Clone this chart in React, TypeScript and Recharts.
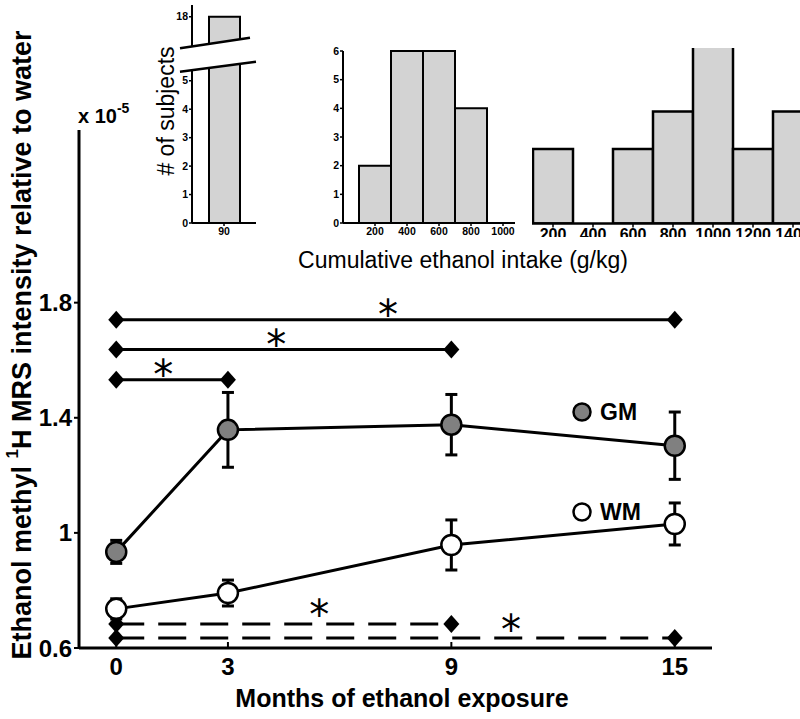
import React from 'react';
import { ComposedChart, BarChart, Bar, Line, Scatter, XAxis, YAxis, ErrorBar, Legend, Label } from 'recharts';

const FONT = '"Liberation Sans", Arial, Helvetica, sans-serif';

// ---- main chart data ----
const months = [0, 3, 9, 15];
const gmMean = [0.934, 1.358, 1.376, 1.303];
const gmErr = [0.04, 0.13, 0.105, 0.117];
const wmMean = [0.736, 0.791, 0.958, 1.031];
const wmErr = [0.035, 0.045, 0.087, 0.073];
const xTicks = [0, 3, 9, 15];
const yTicks = [0.6, 1, 1.4, 1.8];
const legendNames = ['GM', 'WM'];
const legendFills = ['#808080', '#ffffff'];

// ---- significance brackets ----
const sigStart = [0, 0, 0, 0, 0];
const sigEnd = [15, 9, 3, 9, 15];
const sigLevel = [1.741, 1.637, 1.532, 0.683, 0.635];
const sigDashed = [false, false, false, true, true];
const starMonth = [7.3, 4.3, 1.26, 5.45, 10.6];
const starLevel = [1.786, 1.682, 1.577, 0.743, 0.69];

// ---- inset histograms ----
const inset1Bins = ['90'];
const inset1Counts = [18];
const inset1LowTicks = [0, 1, 2, 3, 4, 5];
const inset1HighTicks = [18];
const inset2Bins = [200, 400, 600, 800, 1000];
const inset2Counts = [2, 6, 6, 4, 0];
const inset2YTicks = [0, 1, 2, 3, 4, 5, 6];
const inset3Bins = [200, 400, 600, 800, 1000, 1200, 1400];
const inset3Counts = [2, 0, 2, 3, 5, 2, 3];

const mainData = months.map((m, i) => ({ m, gm: gmMean[i], gmErr: gmErr[i], wm: wmMean[i], wmErr: wmErr[i] }));
const sigLines = sigStart.map((s, i) => [
  { m: s, v: sigLevel[i] },
  { m: sigEnd[i], v: sigLevel[i] },
]);
const stars = starMonth.map((m, i) => ({ m, v: starLevel[i] }));
const inset1Data = inset1Bins.map((b, i) => ({ bin: b, n: inset1Counts[i] }));
const inset2Data = inset2Bins.map((b, i) => ({ bin: b, n: inset2Counts[i] }));
const inset3Data = inset3Bins.map((b, i) => ({ bin: b, n: inset3Counts[i] }));

const renderDiamond = (p: any) => {
  const { cx, cy, index } = p;
  if (cx == null || cy == null) return <g key={'d' + index} />;
  return <path key={'d' + index} d={`M${cx},${cy - 9}L${cx + 8},${cy}L${cx},${cy + 9}L${cx - 8},${cy}Z`} fill="#000" />;
};

const makeCircleDot = (fill: string) => (p: any) => {
  const { cx, cy, index } = p;
  if (cx == null || cy == null) return <g key={'c' + index} />;
  return <circle key={'c' + index} cx={cx} cy={cy} r={10} fill={fill} stroke="#000" strokeWidth={2.5} />;
};

const renderStar = (p: any) => {
  const { cx, cy } = p;
  return (
    <text x={cx} y={cy + 22} textAnchor="middle" fontSize={40} fontFamily='"DejaVu Sans", sans-serif' fill="#000">
      *
    </text>
  );
};

const renderLegend = () => (
  <div style={{ position: 'relative', width: 120, height: 130, fontFamily: FONT }}>
    {legendNames.map((name, i) => (
      <div key={name} style={{ position: 'absolute', left: 0, top: i * 100, height: 24, display: 'flex', alignItems: 'center' }}>
        <svg width={20} height={24}>
          <circle cx={10} cy={12} r={8.5} fill={legendFills[i]} stroke="#000" strokeWidth={2.5} />
        </svg>
        <span style={{ marginLeft: 8, fontSize: 23, fontWeight: 'bold', lineHeight: '24px', color: '#000' }}>{name}</span>
      </div>
    ))}
  </div>
);

const yTitle = () => (
  <text transform="rotate(-90 22 345)" x={22} y={345} textAnchor="middle" dominantBaseline="central" fontSize={27} fontWeight="bold" fill="#000">
    Ethanol methyl{' '}
    <tspan dy={-10} fontSize={17}>1</tspan>
    <tspan dy={10}>H MRS intensity relative to water</tspan>
  </text>
);

const xTitle = () => (
  <text x={402} y={707} textAnchor="middle" fontSize={25} fontWeight="bold" fill="#000">
    Months of ethanol exposure
  </text>
);

const smallTick = { fill: '#000', fontSize: 10.5, fontWeight: 'bold' as const };
const barStyle = { fill: '#d3d3d3', stroke: '#000', strokeWidth: 2 };

export default function App() {
  return (
    <div style={{ position: 'absolute', left: 0, top: 0, width: 800, height: 719, overflow: 'hidden', background: '#fff', fontFamily: FONT }}>
      {/* main chart */}
      <div style={{ position: 'absolute', left: 0, top: 0 }}>
        <ComposedChart width={800} height={719} data={mainData} margin={{ top: 130, right: 88, bottom: 0, left: 29 }}>
          <XAxis
            dataKey="m"
            type="number"
            domain={[-1, 16]}
            ticks={xTicks}
            interval={0}
            allowDataOverflow
            height={71}
            axisLine={{ stroke: '#000', strokeWidth: 3 }}
            tickLine={{ stroke: '#000', strokeWidth: 2 }}
            tickSize={-6}
            tickMargin={16}
            tick={{ fill: '#000', fontSize: 24, fontWeight: 'bold' }}
          >
            <Label content={xTitle} />
          </XAxis>
          <YAxis
            type="number"
            domain={[0.6, 2.4]}
            ticks={yTicks}
            interval={0}
            width={50}
            axisLine={{ stroke: '#000', strokeWidth: 3 }}
            tickLine={{ stroke: '#000', strokeWidth: 2 }}
            tickSize={5}
            tickMargin={2}
            tick={{ fill: '#000', fontSize: 24, fontWeight: 'bold' }}
          >
            <Label content={yTitle} />
          </YAxis>
          {sigLines.map((d, i) => (
            <Line
              key={'sig' + i}
              data={d}
              dataKey="v"
              stroke="#000"
              strokeWidth={3}
              strokeDasharray={sigDashed[i] ? '28 14' : undefined}
              dot={renderDiamond}
              activeDot={false}
              legendType="none"
              isAnimationActive={false}
            />
          ))}
          <Scatter data={stars} dataKey="v" shape={renderStar} legendType="none" isAnimationActive={false} />
          <Line dataKey="gm" name="GM" stroke="#000" strokeWidth={3} dot={makeCircleDot('#808080')} activeDot={false} isAnimationActive={false}>
            <ErrorBar dataKey="gmErr" width={6} strokeWidth={3} stroke="#000" direction="y" />
          </Line>
          <Line dataKey="wm" name="WM" stroke="#000" strokeWidth={3} dot={makeCircleDot('#ffffff')} activeDot={false} isAnimationActive={false}>
            <ErrorBar dataKey="wmErr" width={6} strokeWidth={3} stroke="#000" direction="y" />
          </Line>
          <Legend
            layout="vertical"
            align="center"
            verticalAlign="middle"
            content={renderLegend}
            wrapperStyle={{ left: 572, top: 400, width: 120, height: 130 }}
          />
        </ComposedChart>
      </div>

      {/* inset 1: upper part of broken axis */}
      <div style={{ position: 'absolute', left: 152, top: 0 }}>
        <BarChart width={104} height={52} data={inset1Data} margin={{ top: 5, right: 0, bottom: 0, left: 0 }}>
          <XAxis dataKey="bin" type="category" hide />
          <YAxis
            type="number"
            domain={[16.8, 18.4]}
            ticks={inset1HighTicks}
            allowDataOverflow
            width={40}
            axisLine={{ stroke: '#000', strokeWidth: 2 }}
            tickLine={{ stroke: '#000', strokeWidth: 1.5 }}
            tickSize={3}
            tickMargin={1}
            tick={smallTick}
          />
          <Bar dataKey="n" barSize={31} {...barStyle} isAnimationActive={false} />
        </BarChart>
      </div>

      {/* inset 1: lower part */}
      <div style={{ position: 'absolute', left: 152, top: 58 }}>
        <BarChart width={104} height={190} data={inset1Data} margin={{ top: 0, right: 0, bottom: 0, left: 0 }}>
          <XAxis
            dataKey="bin"
            type="category"
            height={25}
            axisLine={{ stroke: '#000', strokeWidth: 2 }}
            tickLine={{ stroke: '#000', strokeWidth: 1.5 }}
            tickSize={3}
            tickMargin={2}
            tick={smallTick}
          />
          <YAxis
            type="number"
            domain={[0, 5.8]}
            ticks={inset1LowTicks}
            interval={0}
            allowDataOverflow
            width={40}
            axisLine={{ stroke: '#000', strokeWidth: 2 }}
            tickLine={{ stroke: '#000', strokeWidth: 1.5 }}
            tickSize={3}
            tickMargin={1}
            tick={smallTick}
          />
          <Bar dataKey="n" barSize={31} {...barStyle} isAnimationActive={false} />
        </BarChart>
      </div>

      {/* inset 2 */}
      <div style={{ position: 'absolute', left: 313, top: 41 }}>
        <BarChart width={212} height={207} data={inset2Data} barCategoryGap={0} margin={{ top: 10, right: 10, bottom: 0, left: 0 }}>
          <XAxis
            dataKey="bin"
            type="number"
            domain={[0, 1075]}
            ticks={inset2Bins}
            interval={0}
            height={25}
            axisLine={{ stroke: '#000', strokeWidth: 2 }}
            tickLine={{ stroke: '#000', strokeWidth: 1.5 }}
            tickSize={3}
            tickMargin={2}
            tick={smallTick}
          />
          <YAxis
            type="number"
            domain={[0, 6]}
            ticks={inset2YTicks}
            interval={0}
            width={30}
            axisLine={{ stroke: '#000', strokeWidth: 2 }}
            tickLine={{ stroke: '#000', strokeWidth: 1.5 }}
            tickSize={3}
            tickMargin={1}
            tick={smallTick}
          />
          <Bar dataKey="n" {...barStyle} isAnimationActive={false} />
        </BarChart>
      </div>

      {/* inset 3 (cropped, as in the source figure) */}
      <div style={{ position: 'absolute', left: 532, top: 48, width: 268, height: 189, overflow: 'hidden' }}>
        <div style={{ position: 'absolute', left: -19, top: -11.5 }}>
          <BarChart width={300} height={216.5} data={inset3Data} barCategoryGap={0} margin={{ top: 0, right: 0, bottom: 0, left: 0 }}>
            <XAxis
              dataKey="bin"
              type="number"
              domain={[0, 1500]}
              ticks={inset3Bins}
              tickCount={8}
              interval={0}
              height={30}
              axisLine={{ stroke: '#000', strokeWidth: 2.5 }}
              tickLine={{ stroke: '#000', strokeWidth: 1.5 }}
              tickSize={4}
              tickMargin={1}
              tick={{ fill: '#000', fontSize: 16, fontWeight: 'bold' }}
            />
            <YAxis type="number" domain={[0, 5]} allowDataOverflow hide />
            <Bar dataKey="n" fill="#d3d3d3" stroke="#000" strokeWidth={2.5} isAnimationActive={false} />
          </BarChart>
        </div>
      </div>

      {/* overlay: axis break marks and inset / unit labels */}
      <svg width={800} height={719} style={{ position: 'absolute', left: 0, top: 0, pointerEvents: 'none' }}>
        <polygon points="178,48.3 258,36.9 258,61.7 178,72.3" fill="#fff" />
        <line x1={180} y1={48.3} x2={250} y2={37.7} stroke="#000" strokeWidth={2.5} />
        <line x1={180} y1={71.7} x2={256} y2={61.7} stroke="#000" strokeWidth={2.5} />
        <text transform="rotate(-90 166 111)" x={166} y={111} textAnchor="middle" dominantBaseline="central" fontSize={23} fill="#000">
          # of subjects
        </text>
        <text x={463} y={268} textAnchor="middle" fontSize={23} fill="#000">
          Cumulative ethanol intake (g/kg)
        </text>
        <text x={78} y={123} fontSize={20} fontWeight="bold" fill="#000">
          x 10<tspan dy={-10} fontSize={14}>-5</tspan>
        </text>
      </svg>
    </div>
  );
}
